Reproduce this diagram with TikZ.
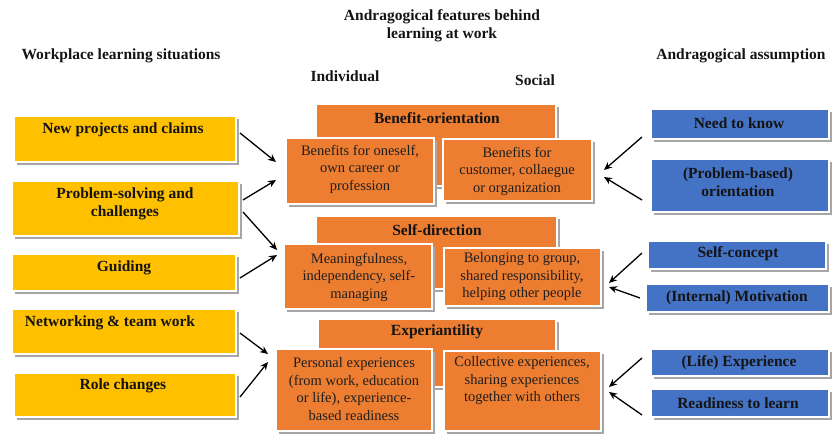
\documentclass[tikz,border=0pt]{standalone}
\usepackage{fontspec}
\setmainfont{Liberation Serif}
\usetikzlibrary{shadows,arrows.meta}
\definecolor{sitfill}{HTML}{FFC000}
\definecolor{featfill}{HTML}{ED7D31}
\definecolor{assfill}{HTML}{4472C4}
\definecolor{shadowgray}{HTML}{A6A6A6}
\tikzset{
  boxbase/.style={rectangle, draw=white, line width=2pt, inner sep=0pt,
    drop shadow={shadow xshift=3pt, shadow yshift=-3pt, fill=shadowgray, opacity=1}},
  sitbox/.style={boxbase, fill=sitfill},
  headbox/.style={boxbase, fill=featfill},
  subbox/.style={boxbase, fill=featfill, line width=2.5pt},
  assbox/.style={boxbase, fill=assfill},
  lbl/.style={font=\fontsize{15.5}{18}\selectfont\bfseries, align=center, inner sep=0pt, text=black!92},
  body/.style={font=\fontsize{14.5}{17.5}\selectfont, align=center, inner sep=0pt, text=black!88},
  arr/.style={-{Stealth[length=8pt,width=7pt]}, line width=1.3pt},
}
\begin{document}
\begin{tikzpicture}[x=1pt,y=-1pt]
\useasboundingbox (0,0) rectangle (833,436);

% column titles
\node[lbl] (ttlmid) at (442,26) {Andragogical features behind\\learning at work};
\node[lbl] (ttlleft) at (121,56) {Workplace learning situations};
\node[lbl] (ttlright) at (741,56) {Andragogical assumption};
\node[lbl] (ttlind) at (345,76) {Individual};
\node[lbl] (ttlsoc) at (535,80) {Social};

% workplace learning situations
\node[sitbox, minimum width=222, minimum height=46] (y1) at (125,139) {};
\node[sitbox, minimum width=227, minimum height=55] (y2) at (125.5,208.5) {};
\node[sitbox, minimum width=224, minimum height=37] (y3) at (124,272.5) {};
\node[sitbox, minimum width=224, minimum height=45] (y4) at (124,331.5) {};
\node[sitbox, minimum width=222, minimum height=44] (y5) at (125,395) {};
\node[lbl] (ty1) at (123,130) {New projects and claims};
\node[lbl] (ty2) at (125,204) {Problem-solving and\\challenges};
\node[lbl] (ty3) at (124,268) {Guiding};
\node[lbl] (ty4) at (110,323) {Networking \& team work};
\node[lbl] (ty5) at (123,386) {Role changes};

% andragogical features: headers
\node[headbox, minimum width=240, minimum height=82] (h1) at (436,145) {};
\node[headbox, minimum width=241, minimum height=73] (h2) at (436.5,252.5) {};
\node[headbox, minimum width=238, minimum height=68] (h3) at (437,353) {};
\node[lbl] (th1) at (437,118) {Benefit-orientation};
\node[lbl] (th2) at (437,230) {Self-direction};
\node[lbl] (th3) at (437,332) {Experiantility};

% andragogical features: individual and social boxes
\node[subbox, minimum width=148, minimum height=66] (l1) at (360,171) {};
\node[subbox, minimum width=149, minimum height=62] (r1) at (517.5,170) {};
\node[subbox, minimum width=148, minimum height=65] (l2) at (358,276.5) {};
\node[subbox, minimum width=157, minimum height=58] (r2) at (522.5,277) {};
\node[subbox, minimum width=156, minimum height=82] (l3) at (354,390) {};
\node[subbox, minimum width=157, minimum height=80] (r3) at (522.5,391) {};
\node[body] (tl1) at (360,169) {Benefits for oneself,\\own career or\\profession};
\node[body] (tr1) at (517,171) {Benefits for\\customer, collaegue\\or organization};
\node[body] (tl2) at (359,277) {Meaningfulness,\\independency, self-\\managing};
\node[body] (tr2) at (522,277) {Belonging to group,\\shared responsibility,\\helping other people};
\node[body] (tl3) at (354,389) {Personal experiences\\(from work, education\\or life), experience-\\based readiness};
\node[body] (tr3) at (522,381) {Collective experiences,\\sharing experiences\\together with others};

% andragogical assumptions
\node[assbox, minimum width=178, minimum height=30] (b1) at (740,124) {};
\node[assbox, minimum width=178, minimum height=53] (b2) at (740,185.5) {};
\node[assbox, minimum width=178, minimum height=28] (b3) at (737,255) {};
\node[assbox, minimum width=183, minimum height=28] (b4) at (737.5,298) {};
\node[assbox, minimum width=178, minimum height=27] (b5) at (740,362.5) {};
\node[assbox, minimum width=178, minimum height=28] (b6) at (740,403) {};
\node[lbl] (tb1) at (739,123) {Need to know};
\node[lbl] (tb2) at (738,182) {(Problem-based)\\orientation};
\node[lbl] (tb3) at (738,254) {Self-concept};
\node[lbl] (tb4) at (737,298) {(Internal) Motivation};
\node[lbl] (tb5) at (739,363) {(Life) Experience};
\node[lbl] (tb6) at (738,403) {Readiness to learn};

% arrow end points
\coordinate (a1s) at (240,133); \coordinate (a1e) at (276,162);
\coordinate (a2s) at (243,200); \coordinate (a2e) at (276,180);
\coordinate (a3s) at (243,212); \coordinate (a3e) at (277,250);
\coordinate (a4s) at (240,278); \coordinate (a4e) at (277,255);
\coordinate (a5s) at (240,333); \coordinate (a5e) at (268,354);
\coordinate (a6s) at (240,397); \coordinate (a6e) at (268,362);
\coordinate (c1s) at (642,137); \coordinate (c1e) at (604,170);
\coordinate (c2s) at (642,200); \coordinate (c2e) at (604,177);
\coordinate (c3s) at (642,253); \coordinate (c3e) at (609,283);
\coordinate (c4s) at (640,298); \coordinate (c4e) at (609,287);
\coordinate (c5s) at (642,358); \coordinate (c5e) at (609,387);
\coordinate (c6s) at (642,415); \coordinate (c6e) at (609,392);

% connectors
\draw[arr] (a1s) -- (a1e);
\draw[arr] (a2s) -- (a2e);
\draw[arr] (a3s) -- (a3e);
\draw[arr] (a4s) -- (a4e);
\draw[arr] (a5s) -- (a5e);
\draw[arr] (a6s) -- (a6e);
\draw[arr] (c1s) -- (c1e);
\draw[arr] (c2s) -- (c2e);
\draw[arr] (c3s) -- (c3e);
\draw[arr] (c4s) -- (c4e);
\draw[arr] (c5s) -- (c5e);
\draw[arr] (c6s) -- (c6e);
\end{tikzpicture}
\end{document}
